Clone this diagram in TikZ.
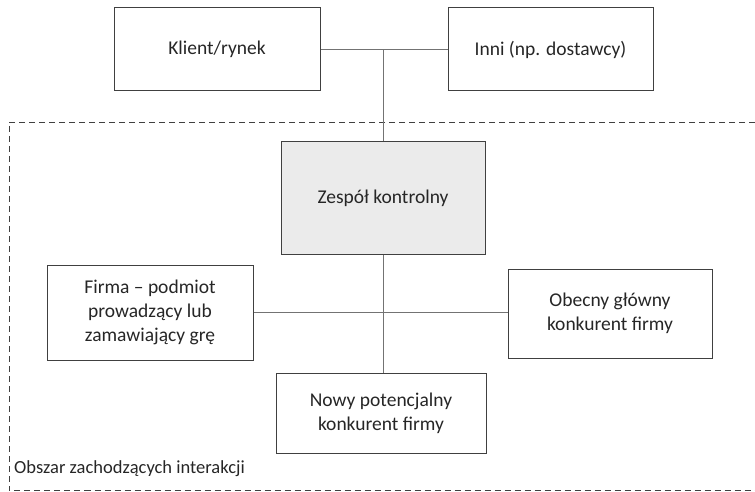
\documentclass[tikz,border=0pt]{standalone}
\usepackage{fontspec}
\setmainfont{Carlito}
\usepackage{xcolor}
\usetikzlibrary{positioning}

\tikzset{
  box/.style={draw=black!75, line width=1pt, minimum width=206pt, minimum height=83pt,
    inner sep=0pt, align=center, text=black!85, font=\fontsize{19.5}{24}\selectfont},
  ctrlbox/.style={box, fill=black!8, minimum height=113pt},
  link/.style={draw=black!55, line width=1pt},
  area/.style={draw=black!75, line width=0.9pt, dash pattern=on 6pt off 4pt},
}

\begin{document}
\begin{tikzpicture}[x=1pt, y=-1pt]
  \useasboundingbox (0,0) rectangle (755,492);
  % obszar interakcji
  \draw[area] (755,122) -- (9,122) -- (9,490.5) -- (755,490.5);
  \node[anchor=west, inner sep=0pt, text=black!85, font=\fontsize{18.5}{22}\selectfont] (obszar) at (14,469) {Obszar zachodzących interakcji};

  \node[box] (klient) at (217,49.5) {Klient/rynek};
  \node[box, minimum width=205pt] (inni) at (550.5,49.5) {Inni (np. dostawcy)};
  \node[ctrlbox, minimum width=204pt] (zespol) at (383,198) {Zespół kontrolny};
  \node[box, minimum height=95pt] (firma) at (150,312.5) {Firma – podmiot\\prowadzący lub\\zamawiający grę};
  \node[box, minimum width=204pt, minimum height=89pt] (obecny) at (610,313.5) {Obecny główny\\konkurent firmy};
  \node[box, minimum width=210pt, minimum height=80pt] (nowy) at (381,413) {Nowy potencjalny\\konkurent firmy};

  % polaczenia
  \coordinate (gora) at (zespol.north |- klient.east);
  \draw[link] (klient) -- (inni);
  \draw[link] (gora) -- (zespol);
  \draw[link] (firma.east) -- (firma.east -| obecny.west);
  \draw[link] (zespol.south) -- (zespol.south |- nowy.north);
\end{tikzpicture}
\end{document}
